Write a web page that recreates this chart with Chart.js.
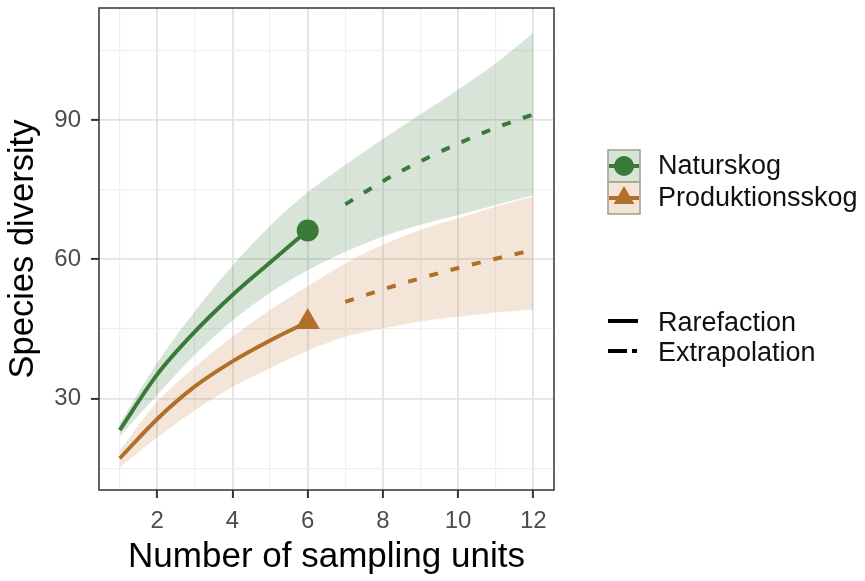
<!DOCTYPE html>
<html><head><meta charset="utf-8">
<script src="https://cdn.jsdelivr.net/npm/chart.js@4/dist/chart.umd.min.js"></script>
<style>html,body{margin:0;padding:0;background:#fff}#wrap{width:865px;height:581px;position:relative}canvas{display:block}</style>
</head><body><div id="wrap"><canvas id="c" width="865" height="581"></canvas></div>
<script>
// ---- data ----
const allX = [1,2,3,4,5,6,7,8,9,10,11,12];
const rareX = [1,2,3,4,5,6];
const extraX = [7,8,9,10,11,12];
const naturRare  = [23.2,35.2,44.4,52.3,59.3,66.2];
const naturExtra = [71.8,76.8,81.1,84.9,88.3,91.2];
const naturUpper = [24.6,37.7,48.8,58.6,67.2,74.4,80.3,85.9,91.2,96.5,102.2,108.7];
const naturLower = [21.8,30.8,39.4,46.8,52.8,57.6,61.6,64.9,67.4,69.5,71.7,73.8];
const prodRare   = [17.1,25.6,32.6,38.0,42.5,46.5];
const prodExtra  = [50.8,53.5,55.9,58.1,60.1,62.0];
const prodUpper  = [18.8,29.3,36.8,43.3,49.1,54.2,59.1,63.1,66.3,68.8,71.3,73.5];
const prodLower  = [15.2,21.6,27.5,32.5,36.5,40.3,43.3,45.1,46.6,47.6,48.5,49.1];
const xTicks = [1,2,3,4,5,6,7,8,9,10,11,12];
const xLabels = [2,4,6,8,10,12];
const yTicks = [15,30,45,60,75,90,105];
const yLabels = [30,60,90];
const seriesNames = ['Naturskog','Produktionsskog'];
const methodNames = ['Rarefaction','Extrapolation'];
const xTitle = 'Number of sampling units';
const yTitle = 'Species diversity';

// ---- style ----
const GREEN = 'rgb(58,122,56)';
const ORANGE = 'rgb(176,112,42)';
const GREEN_BAND = 'rgba(58,122,56,0.2)';
const ORANGE_BAND = 'rgba(196,128,66,0.2)';
const FONT = '"Liberation Sans", Arial, sans-serif';

const pts = (xs, ys) => xs.map((x,i)=>({x:x, y:ys[i]}));
const bandStyle = {pointRadius:0, borderWidth:0, cubicInterpolationMode:'monotone'};

const legendPlugin = {
  id:'customLegend',
  afterDraw(chart){
    const ctx = chart.ctx;
    const a = chart.chartArea;
    ctx.save();
    ctx.strokeStyle = '#333'; ctx.lineWidth = 1.5;
    ctx.strokeRect(a.left, a.top, a.right - a.left, a.bottom - a.top);
    const kx = 608, kw = 32, kh = 32;
    const keys = [
      {y:150, fill:GREEN_BAND, border:'#93a593', col:GREEN, shape:'circle'},
      {y:182, fill:ORANGE_BAND, border:'#a89a8a', col:ORANGE, shape:'triangle'}
    ];
    ctx.font = '27px ' + FONT;
    ctx.textBaseline = 'middle';
    ctx.textAlign = 'left';
    keys.forEach((k,i)=>{
      ctx.fillStyle = '#fff'; ctx.fillRect(kx, k.y, kw, kh);
      ctx.fillStyle = k.fill; ctx.fillRect(kx, k.y, kw, kh);
      ctx.strokeStyle = k.border; ctx.lineWidth = 1.5;
      ctx.strokeRect(kx, k.y, kw, kh);
      const cy = k.y + kh/2, cx = kx + kw/2;
      ctx.strokeStyle = k.col; ctx.lineWidth = 4;
      ctx.beginPath(); ctx.moveTo(kx+1, cy); ctx.lineTo(kx+kw-1, cy); ctx.stroke();
      ctx.fillStyle = k.col;
      ctx.beginPath();
      if (k.shape === 'circle') { ctx.arc(cx, cy, 10, 0, Math.PI*2); }
      else { const r = 12; ctx.moveTo(cx, cy - r); ctx.lineTo(cx + r*0.866, cy + r/2); ctx.lineTo(cx - r*0.866, cy + r/2); ctx.closePath(); }
      ctx.fill();
      ctx.fillStyle = '#111';
      ctx.fillText(seriesNames[i], 658, cy + 1);
    });
    const my = [321, 351];
    ctx.strokeStyle = '#000'; ctx.lineWidth = 4;
    ctx.beginPath(); ctx.moveTo(608, my[0]); ctx.lineTo(638, my[0]); ctx.stroke();
    ctx.setLineDash([19,5]);
    ctx.beginPath(); ctx.moveTo(608, my[1]); ctx.lineTo(637, my[1]); ctx.stroke();
    ctx.setLineDash([]);
    ctx.fillStyle = '#111';
    methodNames.forEach((n,i)=> ctx.fillText(n, 658, my[i] + 3));
    ctx.restore();
  }
};

new Chart(document.getElementById('c'), {
  type:'line',
  data:{
    datasets:[
      Object.assign({label:'nU', data:pts(allX, naturUpper), fill:false}, bandStyle),
      Object.assign({label:'nL', data:pts(allX, naturLower), fill:'-1', backgroundColor:GREEN_BAND}, bandStyle),
      Object.assign({label:'pU', data:pts(allX, prodUpper), fill:false}, bandStyle),
      Object.assign({label:'pL', data:pts(allX, prodLower), fill:'-1', backgroundColor:ORANGE_BAND}, bandStyle),
      {label:'nR', data:pts(rareX, naturRare), borderColor:GREEN, borderWidth:4, pointRadius:0, cubicInterpolationMode:'monotone', fill:false},
      {label:'nE', data:pts(extraX, naturExtra), borderColor:GREEN, borderWidth:4, borderDash:[9,13], borderCapStyle:'butt', pointRadius:0, cubicInterpolationMode:'monotone', fill:false},
      {label:'pR', data:pts(rareX, prodRare), borderColor:ORANGE, borderWidth:4, pointRadius:0, cubicInterpolationMode:'monotone', fill:false},
      {label:'pE', data:pts(extraX, prodExtra), borderColor:ORANGE, borderWidth:4, borderDash:[9,13], borderCapStyle:'butt', pointRadius:0, cubicInterpolationMode:'monotone', fill:false},
      {label:'nP', data:[{x:rareX[rareX.length-1], y:naturRare[naturRare.length-1]}], showLine:false, pointStyle:'circle', pointRadius:11, pointBackgroundColor:GREEN, pointBorderWidth:0, pointBorderColor:GREEN},
      {label:'pP', data:[{x:rareX[rareX.length-1], y:prodRare[prodRare.length-1]}], showLine:false, pointStyle:'triangle', pointRadius:14, pointBackgroundColor:ORANGE, pointBorderWidth:0, pointBorderColor:ORANGE}
    ]
  },
  options:{
    responsive:false, animation:false, devicePixelRatio:1,
    layout:{autoPadding:false, padding:{left:0, top:8, right:311, bottom:0}},
    plugins:{legend:{display:false}, tooltip:{enabled:false}, filler:{drawTime:'beforeDatasetsDraw'}},
    scales:{
      x:{type:'linear', min:0.45, max:12.55,
        afterBuildTicks(s){ s.ticks = xTicks.map(v=>({value:v})); },
        afterFit(s){ s.height = 91; s.paddingLeft = 0; s.paddingRight = 0; },
        ticks:{autoSkip:false, maxRotation:0, padding:9, color:'#4d4d4d', font:{family:FONT, size:24},
          callback:(v)=> xLabels.includes(v) ? String(v) : ''},
        grid:{color:(c)=> xLabels.includes(c.tick && c.tick.value) ? '#e3e3e3' : '#efefef',
              lineWidth:(c)=> xLabels.includes(c.tick && c.tick.value) ? 1.8 : 1.2,
              drawTicks:true, tickLength:8, tickWidth:2,
              tickColor:(c)=> xLabels.includes(c.tick && c.tick.value) ? '#333' : 'rgba(0,0,0,0)'},
        border:{display:false},
        title:{display:true, text:xTitle, color:'#000', font:{family:FONT, size:35}, padding:{top:0, bottom:3}}
      },
      y:{type:'linear', min:10.3, max:114.1,
        afterBuildTicks(s){ s.ticks = yTicks.map(v=>({value:v})); },
        afterFit(s){ s.width = 99; s.paddingTop = 0; s.paddingBottom = 0; },
        ticks:{autoSkip:false, padding:10, color:'#4d4d4d', font:{family:FONT, size:24},
          callback:(v)=> yLabels.includes(v) ? String(v) : ''},
        grid:{color:(c)=> yLabels.includes(c.tick && c.tick.value) ? '#e3e3e3' : '#efefef',
              lineWidth:(c)=> yLabels.includes(c.tick && c.tick.value) ? 1.8 : 1.2,
              drawTicks:true, tickLength:8, tickWidth:2,
              tickColor:(c)=> yLabels.includes(c.tick && c.tick.value) ? '#333' : 'rgba(0,0,0,0)'},
        border:{display:false},
        title:{display:true, text:yTitle, color:'#000', font:{family:FONT, size:34.5}, padding:{top:3, bottom:0}}
      }
    }
  },
  plugins:[legendPlugin]
});
</script></body></html>
